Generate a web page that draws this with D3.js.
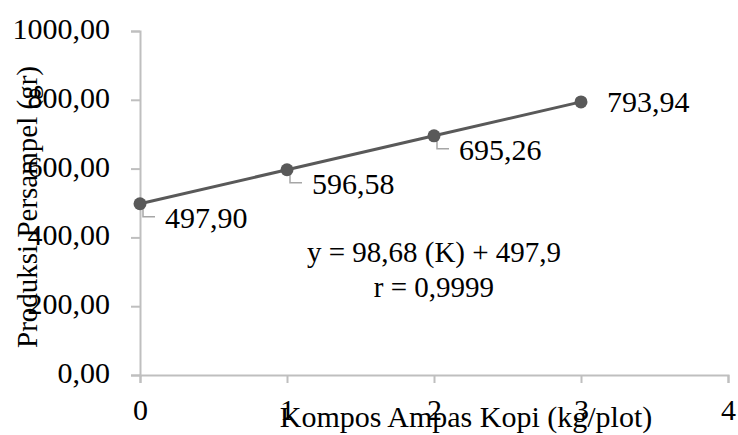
<!DOCTYPE html>
<html>
<head>
<meta charset="utf-8">
<script src="https://cdn.jsdelivr.net/npm/d3@7/dist/d3.min.js"></script>
<style>
  html, body { margin: 0; padding: 0; background: #fff; }
  svg { display: block; font-family: "Liberation Serif", "DejaVu Serif", serif; }
</style>
</head>
<body>
<svg id="chart" width="738" height="435"></svg>
<script>
// Dosage of coffee-grounds compost (kg/plot) and yield per sample (gr)
const doses = [0, 1, 2, 3];
const yields = [497.90, 596.58, 695.26, 793.94];
const xTickValues = [0, 1, 2, 3, 4];
const yTickValues = [0, 200, 400, 600, 800, 1000];
const xTitle = "Kompos Ampas Kopi (kg/plot)";
const yTitle = "Produksi Persampel (gr)";
const equationLines = ["y = 98,68 (K) + 497,9", "r = 0,9999"];

const svg = d3.select("#chart");
const plot = { left: 140, right: 728, top: 31, bottom: 375 };

const x = d3.scaleLinear().domain([0, 4]).range([plot.left, plot.right]);
const y = d3.scaleLinear().domain([0, 1000]).range([plot.bottom, plot.top]);

const locale = d3.formatLocale({ decimal: ",", thousands: ".", grouping: [3], currency: ["", ""] });
const fmt2 = locale.format(".2f");

const axisColor = "#bfbfbf";
const lineColor = "#595959";

// Y axis
const yAxis = svg.append("g")
  .attr("transform", `translate(${plot.left},0)`)
  .call(d3.axisLeft(y).tickValues(yTickValues).tickFormat(fmt2).tickSizeOuter(0).tickSize(9).tickPadding(21));
// X axis
const xAxis = svg.append("g")
  .attr("transform", `translate(0,${plot.bottom})`)
  .call(d3.axisBottom(x).tickValues(xTickValues).tickFormat(d3.format("d")).tickSizeOuter(0).tickSize(8));

[yAxis, xAxis].forEach(g => {
  g.select(".domain").attr("stroke", axisColor).attr("stroke-width", 2);
  g.selectAll(".tick line").attr("stroke", axisColor).attr("stroke-width", 2);
  g.selectAll(".tick text")
    .attr("fill", "#000")
    .style("font-family", "'Liberation Serif', serif")
    .style("font-size", "30px");
});
yAxis.selectAll(".tick text").attr("dy", "0.25em");
xAxis.selectAll(".tick text").attr("y", 45).attr("dy", "0");

// Axis titles
svg.append("text")
  .attr("transform", `translate(37,207) rotate(-90)`)
  .attr("text-anchor", "middle")
  .attr("fill", "#000")
  .style("font-size", "29px")
  .text(yTitle);

svg.append("text")
  .attr("x", 466)
  .attr("y", 427)
  .attr("text-anchor", "middle")
  .attr("fill", "#000")
  .style("font-size", "30px")
  .text(xTitle);

const pts = doses.map((d, i) => ({ dose: d, value: yields[i] }));

// Series line
svg.append("path")
  .datum(pts)
  .attr("fill", "none")
  .attr("stroke", lineColor)
  .attr("stroke-width", 3)
  .attr("d", d3.line().x(d => x(d.dose)).y(d => y(d.value)));

// Leader lines for the labels placed below-right of their point
const lastIndex = pts.length - 1;
svg.append("g")
  .selectAll("path")
  .data(pts.filter((d, i) => i < lastIndex))
  .join("path")
  .attr("fill", "none")
  .attr("stroke", "#a6a6a6")
  .attr("stroke-width", 1.5)
  .attr("d", d => {
    const px = x(d.dose), py = y(d.value);
    return `M${px + 3},${py + 5} L${px + 3},${py + 13} L${px + 15},${py + 13}`;
  });

// Markers
svg.append("g")
  .selectAll("circle")
  .data(pts)
  .join("circle")
  .attr("cx", d => x(d.dose))
  .attr("cy", d => y(d.value))
  .attr("r", 6.5)
  .attr("fill", lineColor);

// Data labels
svg.append("g")
  .selectAll("text")
  .data(pts)
  .join("text")
  .attr("x", (d, i) => x(d.dose) + (i === lastIndex ? 26 : 25))
  .attr("y", (d, i) => y(d.value) + (i === lastIndex ? 0 : 14))
  .attr("dy", "0.33em")
  .attr("fill", "#000")
  .style("font-size", "30px")
  .text(d => fmt2(d.value));

// Regression equation
svg.append("g")
  .selectAll("text")
  .data(equationLines)
  .join("text")
  .attr("x", 434)
  .attr("y", (d, i) => 262 + i * 35)
  .attr("text-anchor", "middle")
  .attr("fill", "#000")
  .style("font-size", "29px")
  .text(d => d);
</script>
</body>
</html>
